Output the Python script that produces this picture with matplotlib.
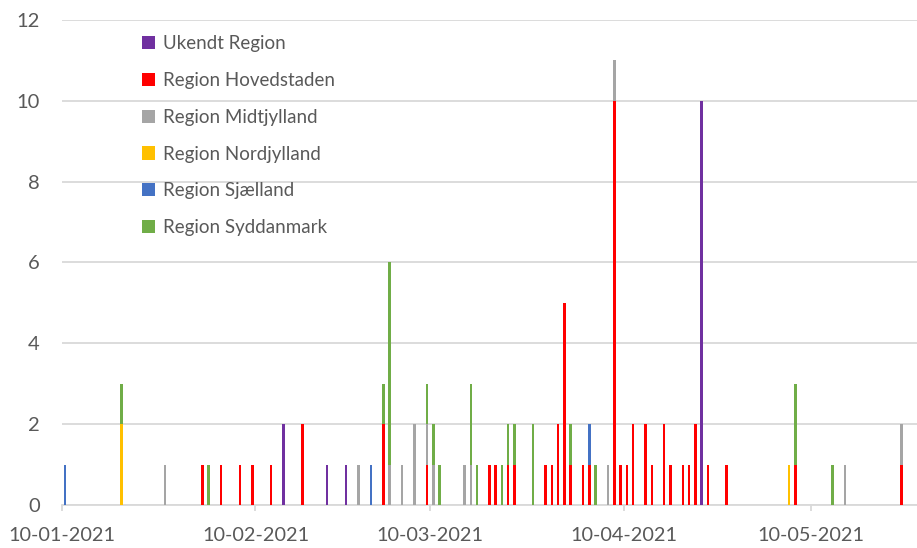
# Tilfælde pr. dag fordelt på region (stablet søjlediagram)

import numpy as np
import pandas as pd
import matplotlib
matplotlib.use('Agg')
import matplotlib.pyplot as plt
import matplotlib.dates as mdates

datoer = ['2021-01-10', '2021-01-19', '2021-01-26', '2021-02-01', '2021-02-02',
          '2021-02-04', '2021-02-07', '2021-02-09', '2021-02-12', '2021-02-14',
          '2021-02-17', '2021-02-21', '2021-02-24', '2021-02-26', '2021-02-28',
          '2021-03-02', '2021-03-03', '2021-03-05', '2021-03-07', '2021-03-09',
          '2021-03-10', '2021-03-11', '2021-03-15', '2021-03-16', '2021-03-17',
          '2021-03-19', '2021-03-20', '2021-03-21', '2021-03-22', '2021-03-23',
          '2021-03-26', '2021-03-28', '2021-03-29', '2021-03-30', '2021-03-31',
          '2021-04-01', '2021-04-03', '2021-04-04', '2021-04-05', '2021-04-07',
          '2021-04-08', '2021-04-09', '2021-04-10', '2021-04-11', '2021-04-13',
          '2021-04-14', '2021-04-16', '2021-04-17', '2021-04-19', '2021-04-20',
          '2021-04-21', '2021-04-22', '2021-04-23', '2021-04-26', '2021-05-06',
          '2021-05-07', '2021-05-13', '2021-05-15', '2021-05-24']

ukendt      = [0, 0, 0, 0, 0, 0, 0, 0, 0, 2, 0, 1, 1, 0, 0, 0, 0, 0, 0, 0,
               0, 0, 0, 0, 0, 0, 0, 0, 0, 0, 0, 0, 0, 0, 0, 0, 0, 0, 0, 0,
               0, 0, 0, 0, 0, 0, 0, 0, 0, 0, 0, 10, 0, 0, 0, 0, 0, 0, 0]
hovedstaden = [0, 0, 0, 1, 0, 1, 1, 1, 1, 0, 2, 0, 0, 0, 0, 2, 0, 0, 0, 1,
               0, 0, 0, 0, 0, 1, 1, 0, 1, 1, 0, 1, 1, 2, 5, 1, 1, 1, 0, 0,
               10, 1, 1, 2, 2, 1, 2, 1, 1, 1, 2, 0, 1, 1, 0, 1, 0, 0, 1]
midtjylland = [0, 0, 1, 0, 0, 0, 0, 0, 0, 0, 0, 0, 0, 1, 0, 0, 1, 1, 2, 1,
               1, 0, 1, 1, 0, 0, 0, 0, 0, 0, 0, 0, 0, 0, 0, 0, 0, 0, 0, 1,
               1, 0, 0, 0, 0, 0, 0, 0, 0, 0, 0, 0, 0, 0, 0, 0, 0, 1, 1]
nordjylland = [0, 2, 0, 0, 0, 0, 0, 0, 0, 0, 0, 0, 0, 0, 0, 0, 0, 0, 0, 0,
               0, 0, 0, 0, 0, 0, 0, 0, 0, 0, 0, 0, 0, 0, 0, 0, 0, 0, 0, 0,
               0, 0, 0, 0, 0, 0, 0, 0, 0, 0, 0, 0, 0, 0, 1, 0, 0, 0, 0]
sjaelland   = [1, 0, 0, 0, 0, 0, 0, 0, 0, 0, 0, 0, 0, 0, 1, 0, 0, 0, 0, 0,
               0, 0, 0, 0, 0, 0, 0, 0, 0, 0, 0, 0, 0, 0, 0, 0, 0, 1, 0, 0,
               0, 0, 0, 0, 0, 0, 0, 0, 0, 0, 0, 0, 0, 0, 0, 0, 0, 0, 0]
syddanmark  = [0, 1, 0, 0, 1, 0, 0, 0, 0, 0, 0, 0, 0, 0, 0, 1, 5, 0, 0, 1,
               1, 1, 0, 2, 1, 0, 0, 1, 1, 1, 2, 0, 0, 0, 0, 1, 0, 0, 1, 0,
               0, 0, 0, 0, 0, 0, 0, 0, 0, 0, 0, 0, 0, 0, 0, 2, 1, 0, 0]

regioner = ['Ukendt Region', 'Region Hovedstaden', 'Region Midtjylland',
            'Region Nordjylland', 'Region Sjælland', 'Region Syddanmark']
serier = [ukendt, hovedstaden, midtjylland, nordjylland, sjaelland, syddanmark]
farver = ['#7030A0', '#FF0000', '#A5A5A5', '#FFC000', '#4472C4', '#70AD47']

tick_datoer = ['2021-01-10', '2021-02-10', '2021-03-10', '2021-04-10', '2021-05-10']

plt.rcParams['font.family'] = ['Lato', 'DejaVu Sans']

# søjlerne står midt i dagen
x = pd.to_datetime(datoer) + pd.Timedelta(hours=12)

fig = plt.figure(figsize=(9.17, 5.48), dpi=100)
ax = fig.add_axes([0.0676, 0.0785, 0.9324, 0.885])

bund = np.zeros(len(datoer))
for navn, vals, farve in zip(regioner, serier, farver):
    vals = np.array(vals, dtype=float)
    ax.bar(x, vals, width=0.4, bottom=bund, color=farve, label=navn, zorder=3)
    bund += vals

ax.set_ylim(0, 12)
ax.set_yticks(range(0, 13, 2))
ax.set_xlim(pd.Timestamp('2021-01-10'), pd.Timestamp('2021-05-27'))
ax.set_xticks(pd.to_datetime(tick_datoer))
ax.xaxis.set_major_formatter(mdates.DateFormatter('%d-%m-%Y'))

ax.grid(axis='y', color='#D9D9D9', linewidth=1.3, zorder=0)
for s in ['left', 'right', 'top']:
    ax.spines[s].set_visible(False)
ax.spines['bottom'].set_color('#D9D9D9')
ax.spines['bottom'].set_linewidth(1.3)
ax.tick_params(axis='y', length=0, labelsize=14.5, labelcolor='#595959', pad=16)
ax.tick_params(axis='x', length=4.5, color='#D9D9D9', width=1.3,
               labelsize=14.3, labelcolor='#595959', pad=11)

ax.legend(loc='upper left', bbox_to_anchor=(0.074, 1.004), frameon=False,
          fontsize=13.5, handlelength=0.7, handleheight=0.7, handletextpad=0.4,
          labelspacing=1.06, labelcolor='#595959')

plt.savefig('out.png', dpi=100)
